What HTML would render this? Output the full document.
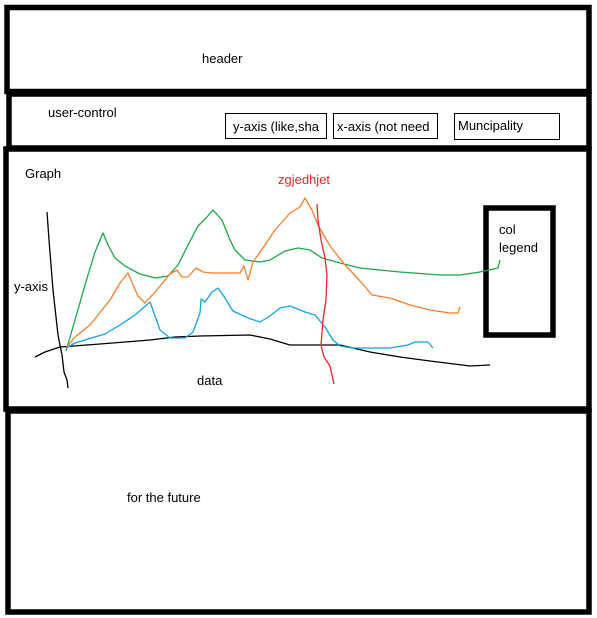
<!DOCTYPE html>
<html><head><style>
html,body{margin:0;padding:0;background:#fff;}
svg{display:block;}
text{font-family:"Liberation Sans",sans-serif;font-size:13px;fill:#000;}
</style></head><body>
<svg width="597" height="618" viewBox="0 0 597 618" xmlns="http://www.w3.org/2000/svg">
<rect width="597" height="618" fill="#fff"/>
<g fill="none" stroke="#000" stroke-width="5.5">
<rect x="7" y="7.5" width="582" height="84"/>
<rect x="9" y="94" width="580" height="54"/>
<rect x="6" y="149" width="583" height="260"/>
<rect x="8" y="411" width="581" height="201"/>
<rect x="486" y="208" width="67" height="127"/>
</g>
<g fill="#fff" stroke="#000" stroke-width="1">
<rect x="225.5" y="113.5" width="101" height="25"/>
<rect x="333.5" y="113.5" width="104" height="25"/>
<rect x="454.5" y="113.5" width="105" height="26"/>
</g>
<text x="202" y="63">header</text>
<text x="48" y="117">user-control</text>
<text x="233" y="131">y-axis (like,sha</text>
<text x="337" y="131">x-axis (not need</text>
<text x="458" y="130">Muncipality</text>
<text x="25" y="178">Graph</text>
<text x="278" y="184" style="fill:#e8262a">zgjedhjet</text>
<text x="499" y="234">col</text>
<text x="499" y="252">legend</text>
<text x="14" y="291">y-axis</text>
<text x="197" y="385">data</text>
<text x="127" y="502">for the future</text>
<g fill="none" stroke-width="1.3" stroke-linejoin="round">
<polyline stroke="#000" points="47,212 49,240 53,290 58,335 62,355 64,372 67,380 68,388"/>
<polyline stroke="#000" points="35,357 45,352 60,347 100,344 150,340 175,337 200,336 250,335 270,339 290,345 340,345 370,352 400,357 430,361 470,366 490,365"/>
<polyline stroke="#1aa64a" points="66,351 75,320 85,285 95,252 103,233 108,245 115,258 125,266 140,274 155,278 168,276 178,265 188,245 198,226 206,218 213,210 222,220 230,240 235,250 245,260 260,262 270,260 285,251 298,248 310,250 322,258 340,263 360,268 400,272 440,275 460,275 480,272 498,268 500,260"/>
<polyline stroke="#f47f2a" points="66,348 75,337 90,325 110,300 120,283 128,273 133,285 138,296 145,303 155,292 170,274 177,270 182,277 188,277 196,268 203,272 212,273 230,273 240,273 244,266 248,280 253,262 265,245 275,230 290,213 300,207 305,198 312,210 318,225 330,246 345,265 360,281 372,295 390,298 410,305 430,310 450,313 458,313 460,307"/>
<polyline stroke="#13a3e8" points="66,348 75,343 88,339 105,334 120,325 135,315 150,302 155,316 160,330 170,338 185,338 193,332 200,313 201,299 205,302 212,292 218,288 225,298 233,311 248,318 260,322 270,316 280,308 290,306 305,312 315,315 325,327 333,340 340,346 352,348 390,348 408,345 415,342 428,342 433,348"/>
<polyline stroke="#e8262a" points="317,204 318,220 321,240 325,258 327,275 326,300 323,320 321,345 324,357 330,366 334,384"/>
</g>
</svg>
</body></html>
